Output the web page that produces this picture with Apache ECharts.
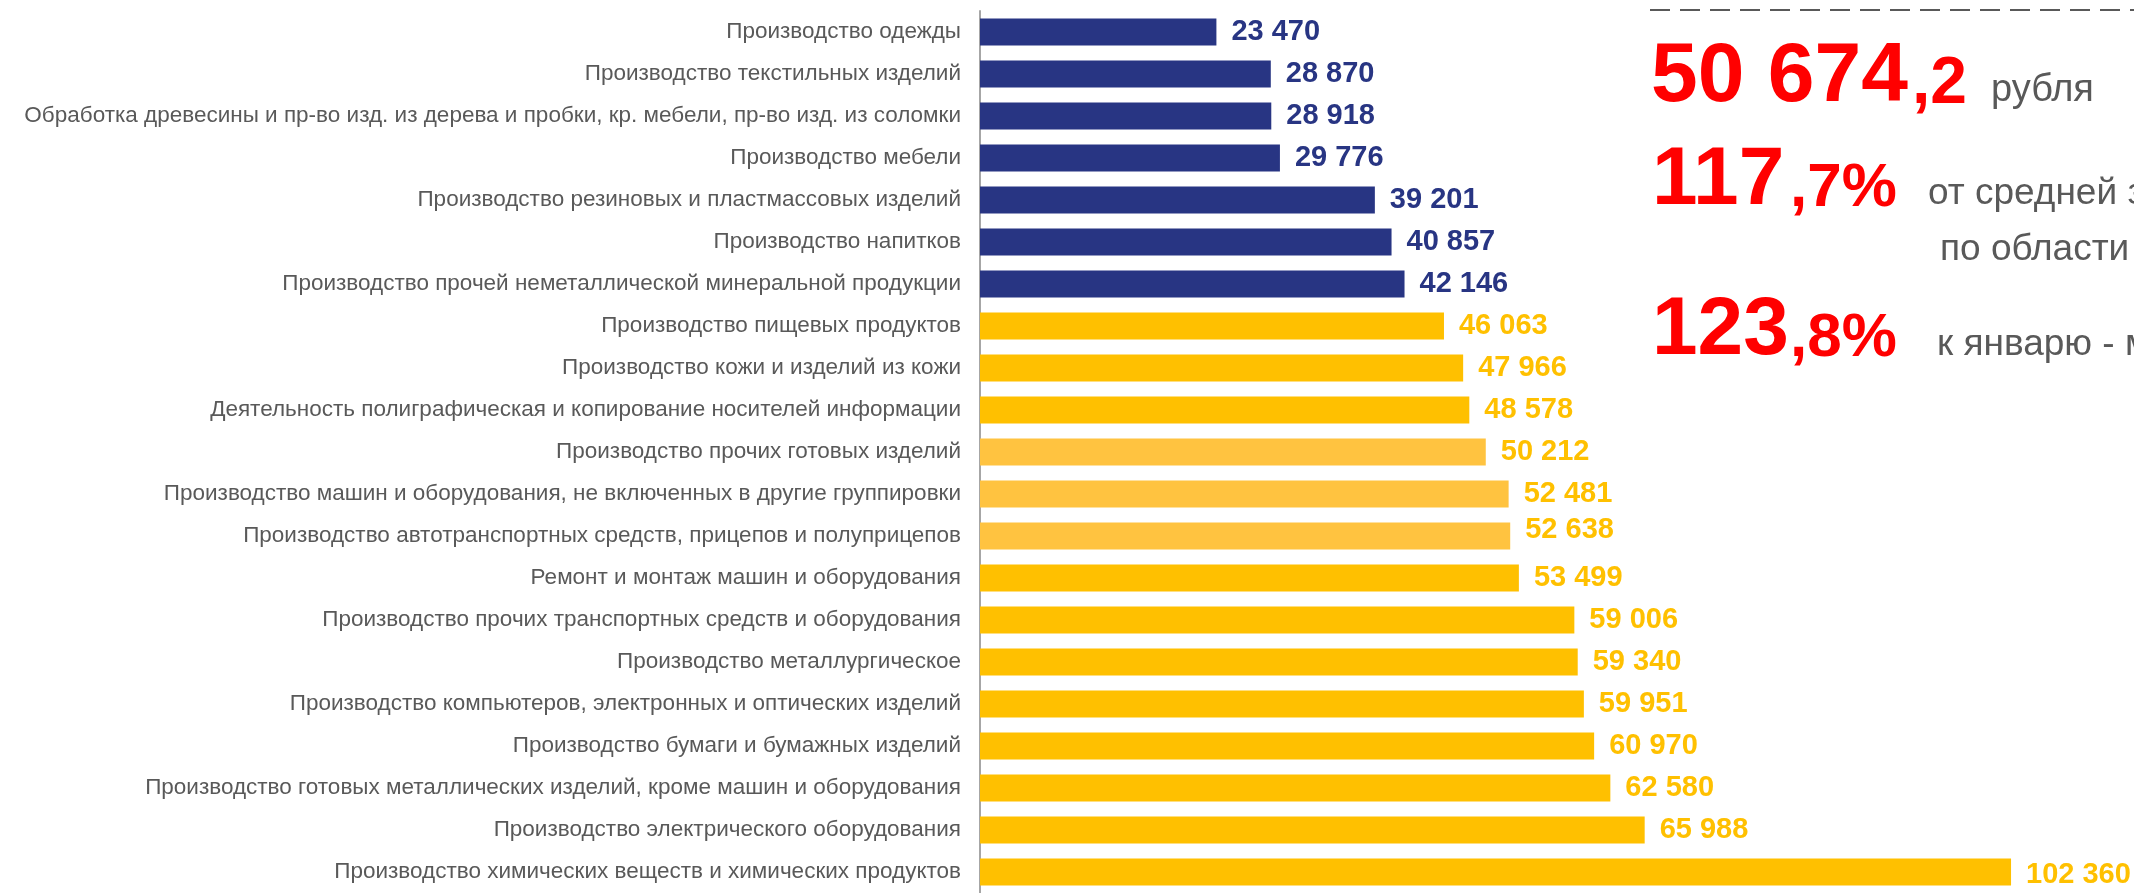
<!DOCTYPE html>
<html>
<head>
<meta charset="utf-8">
<script src="https://cdn.jsdelivr.net/npm/echarts@6/dist/echarts.min.js"></script>
<style>
  html, body { margin: 0; padding: 0; background: #fff; }
  #chart { width: 2134px; height: 893px; }
</style>
</head>
<body>
<div id="chart"></div>
<script>
  // отрасли сверху вниз
  var categories = [
    'Производство одежды',
    'Производство текстильных изделий',
    'Обработка древесины и пр-во изд. из дерева и пробки, кр. мебели, пр-во изд. из соломки',
    'Производство мебели',
    'Производство резиновых и пластмассовых изделий',
    'Производство напитков',
    'Производство прочей неметаллической минеральной продукции',
    'Производство пищевых продуктов',
    'Производство кожи и изделий из кожи',
    'Деятельность полиграфическая и копирование носителей информации',
    'Производство прочих готовых изделий',
    'Производство машин и оборудования, не включенных в другие группировки',
    'Производство автотранспортных средств, прицепов и полуприцепов',
    'Ремонт и монтаж машин и оборудования',
    'Производство прочих транспортных средств и оборудования',
    'Производство металлургическое',
    'Производство компьютеров, электронных и оптических изделий',
    'Производство бумаги и бумажных изделий',
    'Производство готовых металлических изделий, кроме машин и оборудования',
    'Производство электрического оборудования',
    'Производство химических веществ и химических продуктов'
  ]
  var salary = [23470, 28870, 28918, 29776, 39201, 40857, 42146, 46063, 47966, 48578,
    50212, 52481, 52638, 53499, 59006, 59340, 59951, 60970, 62580, 65988, 102360]

  var avgSalary = '50 674'
  var avgSalaryDec = ',2'
  var toRegion = '117'
  var toRegionDec = ',7%'
  var toLastYear = '123'
  var toLastYearDec = ',8%'

  var NAVY = '#283583'
  var YELLOW = '#FFC000'
  var LIGHT = '#FFC340'

  function fmt (v) {
    return String(v).replace(/\B(?=(\d{3})+(?!\d))/g, ' ')
  }

  var barData = salary.map(function (v, i) {
    var c = i < 7 ? NAVY : (i >= 10 && i <= 12 ? LIGHT : YELLOW)
    var lab = { color: i < 7 ? NAVY : YELLOW }
    if (i === 12) lab.offset = [0, -6]
    if (i === 20) lab.offset = [0, 3]
    return { value: v, itemStyle: { color: c }, label: lab }
  })

  var font = '"Liberation Sans", Arial, sans-serif'
  var red = '#FF0000'
  var gray = '#595959'

  function txt (x, y, s, size, color, bold) {
    return {
      type: 'text', x: x, y: y,
      style: {
        text: s, fontFamily: font, fontSize: size,
        fontWeight: bold ? 'bold' : 'normal', fill: color,
        verticalAlign: 'bottom'
      }
    }
  }

  var myChart = echarts.init(document.getElementById('chart'))
  myChart.setOption({
    animation: false,
    grid: { left: 980, right: 46, top: 11, bottom: -4, containLabel: false },
    xAxis: { type: 'value', min: 0, max: 110000, show: false },
    yAxis: {
      type: 'category',
      inverse: true,
      data: categories,
      axisLine: { lineStyle: { color: '#A6A6A6', width: 2 } },
      axisTick: { length: 6, lineStyle: { color: '#A6A6A6', width: 2 } },
      axisLabel: { color: gray, fontFamily: font, fontSize: 22.5, margin: 19 }
    },
    series: [{
      type: 'bar',
      data: barData,
      barCategoryGap: '36%',
      label: {
        show: true,
        position: 'right',
        distance: 15,
        fontFamily: font,
        fontSize: 29,
        fontWeight: 'bold',
        formatter: function (p) { return fmt(p.value) }
      }
    }],
    graphic: [
      {
        type: 'line',
        shape: { x1: 1650, y1: 10, x2: 2134, y2: 10 },
        style: { stroke: gray, lineWidth: 2, lineDash: [20, 10] }
      },
      txt(1651, 120, avgSalary, 84, red, true),
      txt(1912, 118, avgSalaryDec, 66, red, true),
      txt(1991, 110, 'рубля', 38, gray, false),
      txt(1652, 222, toRegion, 82, red, true),
      txt(1790, 220, toRegionDec, 62, red, true),
      txt(1928, 212, 'от средней заработной платы', 37, gray, false),
      txt(1940, 268, 'по области', 37, gray, false),
      txt(1652, 372, toLastYear, 82, red, true),
      txt(1790, 370, toLastYearDec, 62, red, true),
      txt(1937, 363, 'к январю - марту 2022 г.', 37, gray, false)
    ]
  })
</script>
</body>
</html>
